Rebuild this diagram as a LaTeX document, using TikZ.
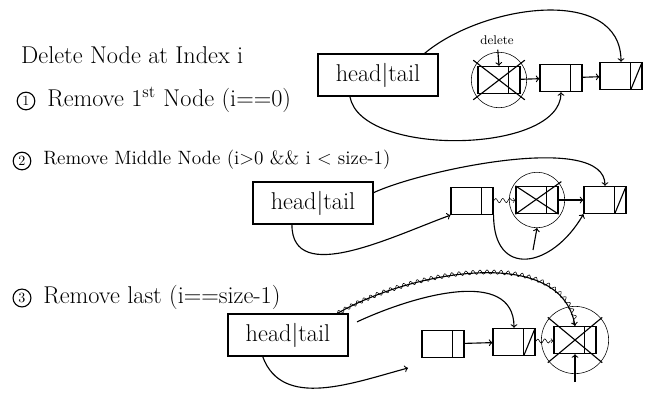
\documentclass[tikz,border=0pt]{standalone}
\usepackage{amsmath}
\usetikzlibrary{shapes.geometric, arrows, positioning, fit, calc, decorations.pathmorphing}

\begin{document}
\begin{tikzpicture}[
      x=0.025cm, y=0.025cm, thick,
      hbox/.style={rectangle, draw, minimum width=3cm, minimum height=1.05cm, font=\LARGE},
      cell/.style={rectangle, draw, minimum width=1.05cm, minimum height=0.68cm,
        path picture={\draw ([xshift=-0.28cm]path picture bounding box.north east) -- ([xshift=-0.28cm]path picture bounding box.south east);}},
      nullcell/.style={cell, path picture={\draw ([xshift=-0.28cm]path picture bounding box.north east) -- ([xshift=-0.28cm]path picture bounding box.south east);
        \draw ([xshift=-0.28cm]path picture bounding box.south east) -- (path picture bounding box.north east);}},
      ring/.style={circle, draw, thin, inner sep=1pt},
      num/.style={circle, draw, inner sep=1.5pt, font=\normalsize},
      caption/.style={font=\LARGE, anchor=west},
      wavy/.style={thin, decorate, decoration={snake, amplitude=1.5pt, segment length=5pt}},
    ]
      \useasboundingbox (0,0) rectangle (648,-402);

      \node[caption] (heading) at (16,-55) {Delete Node at Index i};
      \node[num] (num1) at (26,-101) {1};
      \node[caption] (item1) at (42,-100) {Remove 1\textsuperscript{st} Node (i==0)};
      \node[num] (num2) at (22,-161) {2};
      \node[caption, font=\fontsize{13.7pt}{16pt}\selectfont] (item2) at (38,-160) {Remove Middle Node (i>0 \&\& i < size-1)};
      \node[num] (num3) at (22,-298) {3};
      \node[caption] (item3) at (38,-297) {Remove last (i==size-1)};

      % case 1
      \node[hbox] (head1) at (378,-75) {head\textbar tail};
      \node[cell] (del1) at (499,-80) {};
      \node[cell] (next1) at (561,-78) {};
      \node[nullcell] (last1) at (621,-76) {};
      \node[ring, fit=(del1)] (ring1) {};
      \node[font=\small] (dlabel) at (497,-40) {delete};
      \draw ([shift={(-3pt,4pt)}]del1.north west) -- ([shift={(3pt,-4pt)}]del1.south east);
      \draw ([shift={(3pt,4pt)}]del1.north east) -- ([shift={(-3pt,-4pt)}]del1.south west);
      \draw[->] (dlabel) -- (del1.north);
      \draw[->] (del1) -- (next1);
      \draw[->] (next1) -- (last1);
      \draw[->] ([xshift=-10pt]head1.north east) to[out=40, in=90, looseness=1] (last1.north);
      \draw[->] ([xshift=-20pt]head1.south) to[out=-80, in=-90, looseness=0.75] (next1.south);

      % case 2
      \node[hbox] (head2) at (313,-203) {head\textbar tail};
      \node[cell] (prev2) at (472,-201) {};
      \node[cell] (del2) at (537,-200) {};
      \node[nullcell] (last2) at (605,-200) {};
      \node[ring, fit=(del2)] (ring2) {};
      \draw (del2.north west) -- (del2.south east);
      \draw ([shift={(2pt,3pt)}]del2.north east) -- (del2.south west);
      \draw[->, wavy] (prev2) -- (del2);
      \draw[->] (del2) -- (last2);
      \draw[->] ([yshift=-8pt]head2.north east) to[out=25, in=90, looseness=0.6] (last2.north);
      \draw[->] ([xshift=-15pt]head2.south) to[out=-90, in=200] (prev2.south west);
      \draw[->] (prev2.south east) to[out=-90, in=-120, looseness=1.8] (last2.south west);
      \coordinate (up2) at (533,-250);
      \draw[->] (up2) -- (ring2.south);

      % case 3
      \node[hbox] (head3) at (288,-335) {head\textbar tail};
      \node[cell] (prev3) at (443,-344) {};
      \node[nullcell] (tail3) at (514,-342) {};
      \node[cell] (del3) at (575,-340) {};
      \node[ring, inner sep=4pt, fit=(del3)] (ring3) {};
      \draw ([shift={(-4pt,6pt)}]del3.north west) -- ([shift={(4pt,-6pt)}]del3.south east);
      \draw ([shift={(4pt,6pt)}]del3.north east) -- ([shift={(-4pt,-6pt)}]del3.south west);
      \draw[->] (prev3) -- (tail3);
      \draw[->, wavy] (tail3) -- (del3);
      \draw[->] ([shift={(6pt,-6pt)}]head3.north east) to[out=25, in=90] (tail3.north);
      \draw[->] ([xshift=-8pt]head3.north east) to[out=30, in=100, looseness=0.9] (del3.north);
      \draw[wavy] ([xshift=-8pt]head3.north east) to[out=30, in=100, looseness=0.9] (del3.north);
      \coordinate (stub3) at (408,-368);
      \draw[->] ([xshift=-18pt]head3.south) to[out=-70, in=195] (stub3);
      \coordinate (up3) at (575,-382);
      \draw[->] (up3) -- (del3.south);
    \end{tikzpicture}
\end{document}
